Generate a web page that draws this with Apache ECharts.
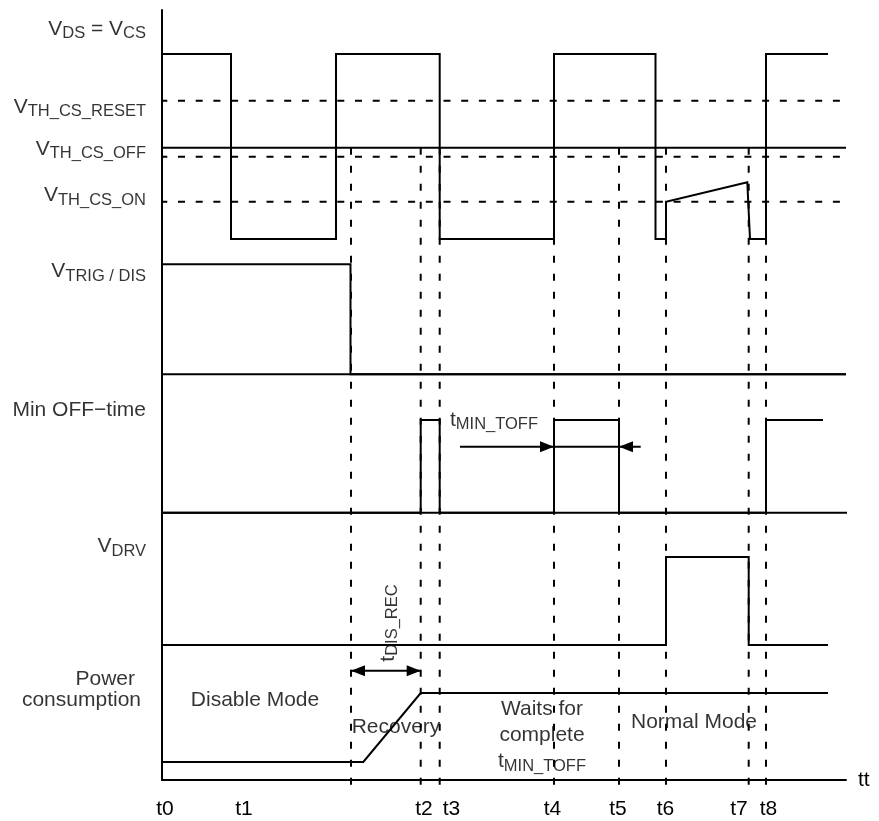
<!DOCTYPE html>
<html><head><meta charset="utf-8">
<script src="https://cdn.jsdelivr.net/npm/echarts@6/dist/echarts.min.js"></script>
<style>html,body{margin:0;padding:0;background:#fff}#c{width:879px;height:821px}</style>
</head><body><div id="c"></div><script>
// ---- data (time in arbitrary units from the vertical axis, level in arbitrary units from the time axis) ----
const tickLabels   = ['t0','t1','t2','t3','t4','t5','t6','t7','t8'];
const tickLabelPos = [3, 82, 262, 289.5, 390.5, 456, 503.5, 577, 606.5];
const markerTimes  = [189, 258.7, 277.7, 392, 457, 504, 586.7, 604];
const markerSpan   = [632.3, -13];

const vthOffLevel      = 632.3;
const vthDashedLevels  = [679.3, 623.3, 578.3];
const separatorLevels  = [405.7, 267.3];
const separatorEnds    = [684, 688];

const vdsWave   = [[0,726],[69,726],[69,541],[174,541],[174,726],[277.7,726],[277.7,541],[392,541],[392,726],[493.5,726],[493.5,541],[504,541],[504,578.3],[585.3,597.7],[588,541],[604,541],[604,726],[666,726]];
const vtrigWave = [[0,515.7],[188.5,515.7],[188.5,405.7],[684,405.7]];
const minOffWave = [[0,267.3],[258.7,267.3],[258.7,360],[277.7,360],[277.7,267.3],[392,267.3],[392,360],[457,360],[457,267.3],[604,267.3],[604,360],[661,360]];
const vdrvWave  = [[0,135],[504,135],[504,223],[586.7,223],[586.7,135],[666,135]];
const powerWave = [[0,18],[201.3,18],[258.7,87],[666,87]];

const disRecArrow  = [[189,109.3],[258.7,109.3]];
const minToffArrow = [[298,333.3],[478.7,333.3]];
const arrowHeads   = [[189,109.3,-1],[258.7,109.3,1],[392,333.3,1],[457,333.3,-1]];

const leftLabels = ['{m|V}{s|DS}{m| = V}{s|CS}','{m|V}{s|TH_CS_RESET}','{m|V}{s|TH_CS_OFF}','{m|V}{s|TH_CS_ON}','{m|V}{s|TRIG / DIS}','{m|Min OFF\u2212time}','{m|V}{s|DRV}','{p|Power}\n{m|consumption}'];
const leftLabelAnchors = [[-16,751],[-16,673],[-16,631],[-16,584.5],[-16,508.5],[-16,369.5],[-16,233.5],[-21,90]];

const notes = ['Disable Mode','Recovery','Waits for\ncomplete\n{m|t}{s|MIN_TOFF}','Normal Mode','{m|t}{s|MIN_TOFF}','{m|t}{s|DIS_REC}'];
const noteAnchors = [[93,80],[234,52.5],[380,44.5],[532,57.5],[332,360],[226,157]];
const noteRotate = [0,0,0,0,0,90];

// ---- styles ----
const FONT = '"Liberation Sans", Arial, Helvetica, sans-serif';
const rich = {
  m: { fontSize: 21, fontFamily: FONT, color: '#000' },
  s: { fontSize: 16.5, fontFamily: FONT, color: '#000', padding: [9, 0, 0, 0] },
  p: { fontSize: 21, fontFamily: FONT, color: '#000', padding: [0, 6, 0, 0] }
};
const LW = 2;
const black = '#000';

function lineSeries(data, opts) {
  return Object.assign({
    type: 'line', data: data, symbol: 'none', silent: true, animation: false, clip: false,
    lineStyle: { color: black, width: LW, join: 'miter' }, z: 3
  }, opts || {});
}

const series = [];
series.push(lineSeries([[0, vthOffLevel], [684, vthOffLevel]]));
vthDashedLevels.forEach(v => series.push(lineSeries([[0, v], [678, v]], {
  lineStyle: { color: black, width: LW, type: [7, 10.7], dashOffset: 1.7 }, z: 2
})));
separatorLevels.forEach((v, i) => series.push(lineSeries([[0, v], [separatorEnds[i], v]])));
[vdsWave, vtrigWave, minOffWave, vdrvWave, powerWave].forEach(w => series.push(lineSeries(w)));
series.push(lineSeries(disRecArrow));
series.push(lineSeries(minToffArrow));

series.push({
  type: 'custom', silent: true, animation: false, z: 2,
  data: markerTimes.map(t => [t, markerSpan[0], markerSpan[1]]),
  renderItem: function (params, api) {
    const a = api.coord([api.value(0), api.value(1)]);
    const b = api.coord([api.value(0), api.value(2)]);
    return { type: 'line', shape: { x1: a[0], y1: a[1], x2: b[0], y2: b[1] },
      style: { stroke: black, lineWidth: LW, lineDash: [7, 11], fill: null } };
  }
});
series.push({
  type: 'custom', silent: true, animation: false, z: 4,
  data: arrowHeads,
  renderItem: function (params, api) {
    const p = api.coord([api.value(0), api.value(1)]);
    const d = api.value(2), L = 14, W = 5.5;
    return { type: 'polygon', shape: { points: [[p[0], p[1]], [p[0] - d * L, p[1] - W], [p[0] - d * L, p[1] + W]] },
      style: { fill: black, stroke: null } };
  }
});

series.push({
  type: 'scatter', silent: true, animation: false, clip: false, symbolSize: 0, z: 5,
  itemStyle: { color: 'transparent' },
  data: leftLabels.map((t, i) => ({ value: leftLabelAnchors[i], name: t,
    label: i === 7 ? { lineHeight: 21 } : {} })),
  label: { show: true, position: 'left', distance: 0, formatter: p => p.name,
    fontSize: 21, fontFamily: FONT, color: black, rich: rich }
});
series.push({
  type: 'scatter', silent: true, animation: false, clip: false, symbolSize: 0, z: 5,
  itemStyle: { color: 'transparent' },
  data: notes.map((t, i) => ({ value: noteAnchors[i], name: t,
    label: Object.assign({ rotate: noteRotate[i] }, i === 2 ? { lineHeight: 26 } : {}) })),
  label: { show: true, position: 'inside', formatter: p => p.name, align: 'center', verticalAlign: 'middle',
    fontSize: 21, fontFamily: FONT, color: black, rich: rich }
});

const chart = echarts.init(document.getElementById('c'), null, { renderer: 'canvas' });
chart.setOption({
  backgroundColor: '#fff',
  animation: false,
  grid: { left: 162, top: 10, right: 33, bottom: 41, containLabel: false, outerBoundsMode: 'none' },
  xAxis: {
    type: 'value', min: 0, max: 684,
    axisLine: { show: true, onZero: false, lineStyle: { color: black, width: LW } },
    axisTick: { show: false }, splitLine: { show: false },
    axisLabel: {
      customValues: tickLabelPos,
      formatter: function (v) {
        let best = 0;
        tickLabelPos.forEach((p, i) => { if (Math.abs(p - v) < Math.abs(tickLabelPos[best] - v)) best = i; });
        return tickLabels[best];
      },
      fontSize: 21, fontFamily: FONT, color: black, margin: 19
    },
    name: 'tt', nameLocation: 'end', nameGap: 12,
    nameTextStyle: { fontSize: 21, fontFamily: FONT, color: black, padding: [16, 0, 0, 0], align: 'left', verticalAlign: 'middle' }
  },
  yAxis: {
    type: 'value', min: 0, max: 770,
    axisLine: { show: true, onZero: false, lineStyle: { color: black, width: LW } },
    axisTick: { show: false }, axisLabel: { show: false }, splitLine: { show: false }
  },
  series: series
});
</script></body></html>
